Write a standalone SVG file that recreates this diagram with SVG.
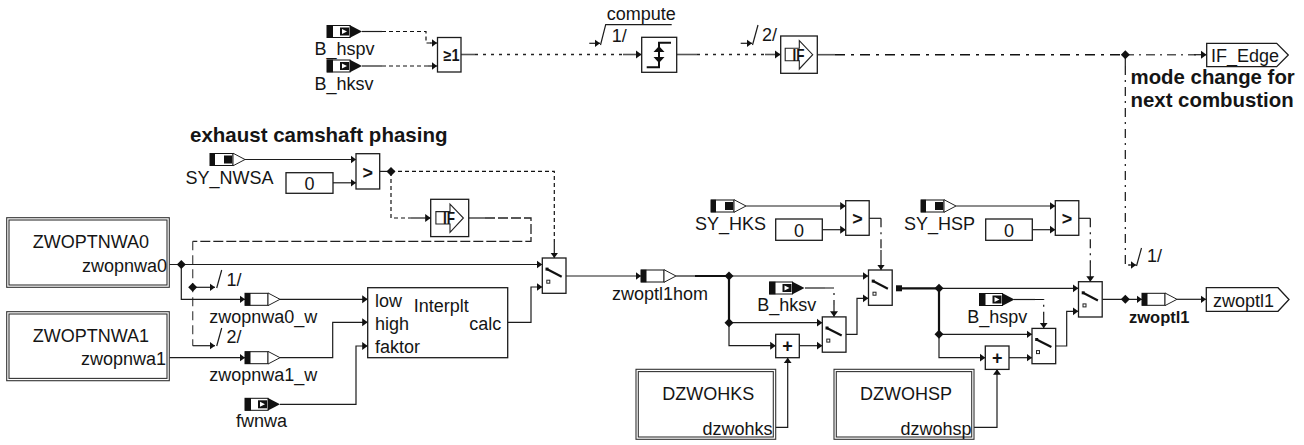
<svg xmlns="http://www.w3.org/2000/svg" xmlns:xlink="http://www.w3.org/1999/xlink" width="1304" height="445" viewBox="0 0 1304 445">
<style>
text{font-family:"Liberation Sans",Arial,sans-serif;font-size:18px;fill:#151515}
.b{font-weight:bold;font-size:20.4px}
.o{font-weight:bold;font-size:18px;text-anchor:middle}
.i{font-weight:bold;font-size:17px}
.box{fill:#fff;stroke:#1c1c1c;stroke-width:1.3}
.dbl{fill:none;stroke:#333;stroke-width:1.1}
.l{fill:none;stroke:#1c1c1c;stroke-width:1.2}
.th{fill:none;stroke:#111;stroke-width:2.2}
.g{fill:none;stroke:#555;stroke-width:1.6}
.a{marker-end:url(#ar)}
.d{fill:none;stroke:#111;stroke-width:1.2;stroke-dasharray:4 3}
.dt{fill:none;stroke:#222;stroke-width:1.6;stroke-dasharray:3 5}
.dd{fill:none;stroke:#111;stroke-width:1.5;stroke-dasharray:10 6 3 6}
.dg{fill:none;stroke:#555;stroke-width:1.4;stroke-dasharray:9 5 2 5}
.ds{fill:none;stroke:#111;stroke-width:1.2;stroke-dasharray:9 5 2 5}
.dl{fill:none;stroke:#222;stroke-width:1.3;stroke-dasharray:10 3}
.v{fill:none;stroke:#555;stroke-width:1.3;stroke-dasharray:9 5}
</style>
<defs>
<marker id="ar" markerUnits="userSpaceOnUse" markerWidth="7" markerHeight="10" refX="5.5" refY="4.5" orient="auto"><path d="M0,0.5 L5.5,4.5 L0,8.5z" fill="#111"/></marker>
<g id="pin"><rect x="0" y="-6" width="23" height="12" fill="#fff" stroke="#111"/><rect x="0" y="-6.3" width="6" height="12.6" fill="#111"/><rect x="13" y="-4" width="9" height="8" fill="#111"/><path d="M15,-2.5 L20,0 L15,2.5z" fill="#fff"/><path d="M23,-6.3 L35,0 L23,6.3z" fill="#111"/></g>
<g id="pvar"><rect x="0" y="-6" width="23" height="12" fill="#fff" stroke="#111"/><rect x="0" y="-6.3" width="5.5" height="12.6" fill="#111"/><path d="M23,-6.3 L35,0 L23,6.3z" fill="#fff" stroke="#222"/></g>
<g id="psy"><rect x="0" y="-6" width="23" height="12" fill="#fff" stroke="#111"/><rect x="0" y="-6.3" width="5" height="12.6" fill="#111"/><rect x="14" y="-4" width="8" height="8" fill="#111"/><path d="M23,-6.3 L35,0 L23,6.3z" fill="#fff" stroke="#222"/></g>
<path id="dia" d="M0,-4.5 L4.5,0 L0,4.5 L-4.5,0z" fill="#111"/>
<g id="sw"><rect class="box" x="0" y="0" width="23.7" height="35.3"/><path d="M5,11.3 L19.4,18.7" stroke="#111" stroke-width="2.2" fill="none"/><rect x="3.2" y="9.6" width="3" height="3" fill="#111"/><rect x="4.5" y="22.2" width="3" height="3" fill="none" stroke="#222"/></g>
<g id="ifs"><path d="M4.5,12.3 H18.6 V4.7 L32,18.7 L18.6,33 V24.7 H4.5z" fill="#fff" stroke="#222" stroke-width="1.1"/></g>
</defs>

<g id="connectors">
<path class="l" d="M362 31.5H382"/><path class="d" d="M382 31.5H426V43H432"/><path class="l a" d="M430 43H437"/>
<path class="l" d="M362 66H382"/><path class="d" d="M382 66H430"/><path class="l a" d="M428 66H437"/>
<path class="g" d="M461 54.5H475"/><path class="dt" d="M475 54.5H623"/><path class="g a" d="M623 54.5H641.5"/>
<path class="g" d="M676.7 54.5H697"/><path class="dt" d="M697 54.5H765"/><path class="g a" d="M765 54.5H780.5"/>
<path class="g" d="M817 54.7H835"/><path class="dd" d="M835 54.7H1125"/><path class="dg" d="M1125 54.7H1196"/><path class="l a" d="M1194 54.7H1206.5"/>
<path class="l" d="M1125.3 54.7V66"/><path class="ds" d="M1125.3 66V265H1130"/><path class="l a" d="M1128 265H1136"/>
<path class="l a" d="M245 159.5H356"/>
<path class="l a" d="M333 182.8H356"/>
<path class="l" d="M379.7 171.4H391"/>
<path class="d" d="M391 171.4H554.3V242"/><path class="l a" d="M554.3 242V258"/>
<path class="d" d="M391 172V218H411"/><path class="l a" d="M411 218H430.7"/>
<path class="g" d="M468.7 218H485"/><path class="dl" d="M485 218H531V241.3H192.7"/><path class="v" d="M192.7 241.3V345.7"/>
<path class="l a" d="M192.7 287.3H215"/><path class="l a" d="M192.7 345.7H215"/>
<path class="l a" d="M169.5 264.5H542.3"/>
<path class="l a" d="M181.3 264.5V299.3H245"/>
<path class="l a" d="M280 299.3H367.7"/>
<path class="l a" d="M169.5 357.7H245"/>
<path class="l a" d="M280 357.7H332.7V322.3H367.7"/>
<path class="l a" d="M280 404.3H356V346H367.7"/>
<path class="l a" d="M507.7 322.3H531V287H542.3"/>
<path class="l a" d="M566 276H641"/>
<path class="l" d="M676 276H695"/><path class="th" d="M695 276H729V322.7"/>
<path class="l a" d="M729 276H868.3"/>
<path class="l a" d="M729 322.7H822.3"/>
<path class="l a" d="M729 322.7V345.7H775.7"/>
<path class="l a" d="M799.3 345.7H822.3"/>
<path class="l a" d="M775.7 427.3H787.7V357.7"/>
<path class="l a" d="M846 334.3H857V298.3H868.3"/>
<path class="l a" d="M745.7 206H845.7"/>
<path class="l a" d="M822.3 229.7H845.7"/>
<path class="l" d="M869 218.3H881"/><path class="ds" d="M881 218.3V250"/><path class="l a" d="M881 250V270"/>
<path class="l" d="M805 288H825"/><path class="ds" d="M825 288H834V305"/><path class="l a" d="M834 305V316.7"/>
<path class="th" d="M902 288.3H939V334.3"/>
<path class="l a" d="M939 288.3H1078.3"/>
<path class="l a" d="M939 334.3H1032"/>
<path class="l a" d="M939 334.3V357.7H985.3"/>
<path class="l a" d="M1009 357.7H1032"/>
<path class="l a" d="M974 427.3H997V369.3"/>
<path class="l a" d="M1055.7 346H1066.7V311.3H1078.3"/>
<path class="l a" d="M956 206H1055.3"/>
<path class="l a" d="M1032.3 229.7H1055.3"/>
<path class="l" d="M1078.7 218.3H1090.3"/><path class="ds" d="M1090.3 218.3V263"/><path class="l a" d="M1090.3 263V281.7"/>
<path class="l" d="M1014 299.5H1035"/><path class="ds" d="M1035 299.5H1043.7V315"/><path class="l a" d="M1043.7 315V328.3"/>
<path class="l a" d="M1102.3 299.3H1142"/>
<path class="l a" d="M1177 299.3H1206"/>
<path class="l a" d="M589.3 43.3H600"/><path class="l" d="M600.5 45L605.7 24.7H671.7"/>
<path class="l a" d="M740.7 43.3H752"/><path class="l" d="M752.5 45L758 25"/>
<path class="l" d="M216.7 288L221.7 270"/>
<path class="l" d="M216.7 346L221.7 328"/>
<path class="l" d="M1136.5 266L1141.5 248"/>
<use xlink:href="#dia" href="#dia" x="391" y="171.4"/>
<use xlink:href="#dia" href="#dia" x="181.3" y="264.5"/>
<use xlink:href="#dia" href="#dia" x="192.7" y="287.3"/>
<use xlink:href="#dia" href="#dia" x="1125.3" y="54.7"/>
<use xlink:href="#dia" href="#dia" x="729" y="276"/>
<use xlink:href="#dia" href="#dia" x="729" y="322.7"/>
<use xlink:href="#dia" href="#dia" x="939" y="288.3"/>
<use xlink:href="#dia" href="#dia" x="939" y="334.3"/>
<use xlink:href="#dia" href="#dia" x="1125.3" y="299.3"/>
<rect x="896" y="285.3" width="6" height="6" fill="#111"/>
</g>

<g id="in_B_hspv_top"><use xlink:href="#pin" href="#pin" x="327" y="31.5"/><text x="314.5" y="55">B_hspv</text></g>
<g id="in_B_hksv_top"><use xlink:href="#pin" href="#pin" x="327" y="66"/><text x="314.5" y="90">B_hksv</text></g>
<g id="or"><rect class="box" x="437.5" y="37.5" width="23.5" height="34.5"/><text x="443.5" y="60.5" textLength="16" lengthAdjust="spacingAndGlyphs" style="font-weight:bold;font-size:16px">≥1</text></g>
<g id="edge"><rect class="box" x="641.7" y="37.3" width="35" height="35"/><path d="M646.7 67.3H659V42.7H671" fill="none" stroke="#111" stroke-width="2"/><path d="M653.5 52L659 46L664.5 52zM653.5 57L659 63L664.5 57z" fill="#111"/></g>
<g id="if_top"><rect class="box" x="780.7" y="36" width="36.6" height="37.3"/><use xlink:href="#ifs" href="#ifs" x="780.7" y="36"/><text class="i" x="792.5" y="60.7" textLength="12" lengthAdjust="spacingAndGlyphs">IF</text></g>
<g id="out_IF_Edge"><path class="box" d="M1206.7 43.3H1276.7L1288.3 55L1276.7 66.7H1206.7z"/><text x="1211" y="61.7">IF_Edge</text></g>
<g id="lbl_trigger"><text x="606.7" y="20">compute</text><text x="611.7" y="41.7">1/</text><text x="762" y="40.7">2/</text></g>
<g id="lbl_mode"><text class="b" x="1130.5" y="84.3">mode change for</text><text class="b" x="1130.5" y="106.7">next combustion</text></g>

<g id="lbl_exhaust"><text class="b" x="190" y="142.3" style="font-size:20.5px">exhaust camshaft phasing</text></g>
<g id="in_SY_NWSA"><use xlink:href="#psy" href="#psy" x="210" y="159.5"/><text x="185.5" y="184">SY_NWSA</text></g>
<g id="const_nwsa"><rect class="box" x="286" y="172.7" width="47" height="20.6"/><text x="309.5" y="190" text-anchor="middle">0</text></g>
<g id="cmp_nwsa"><rect class="box" x="356" y="153.7" width="23.7" height="35.3"/><text class="o" x="367.8" y="178.5">&gt;</text></g>
<g id="if_nwsa"><rect class="box" x="430.7" y="199.3" width="38" height="37.3"/><use xlink:href="#ifs" href="#ifs" x="431.4" y="199.3"/><text class="i" x="443" y="224" textLength="12" lengthAdjust="spacingAndGlyphs">IF</text></g>
<g id="sw_main"><use xlink:href="#sw" href="#sw" x="542.3" y="258"/></g>

<g id="ZWOPTNWA0"><rect class="dbl" x="6.7" y="217.7" width="162.6" height="69.6"/><rect class="dbl" x="9" y="220" width="158" height="65"/><text x="32.7" y="248.3">ZWOPTNWA0</text><text x="167" y="271.7" text-anchor="end">zwopnwa0</text></g>
<g id="ZWOPTNWA1"><rect class="dbl" x="6.7" y="311.7" width="162.6" height="69"/><rect class="dbl" x="9" y="314" width="158" height="64.4"/><text x="32.7" y="341.7">ZWOPTNWA1</text><text x="166" y="365" text-anchor="end">zwopnwa1</text></g>
<g id="lbl_slots"><text x="226.5" y="286">1/</text><text x="226.5" y="343">2/</text><text x="1147" y="262">1/</text></g>
<g id="p_zwopnwa0_w"><use xlink:href="#pvar" href="#pvar" x="245" y="299.3"/><text x="209.3" y="322.7">zwopnwa0_w</text></g>
<g id="p_zwopnwa1_w"><use xlink:href="#pvar" href="#pvar" x="245" y="357.7"/><text x="209.3" y="381">zwopnwa1_w</text></g>
<g id="in_fwnwa"><use xlink:href="#pin" href="#pin" x="245" y="404.3"/><text x="236" y="427">fwnwa</text></g>
<g id="Interplt"><rect class="box" x="367.7" y="287.7" width="140" height="70"/><text x="375" y="306.7">low</text><text x="375" y="330">high</text><text x="375" y="352.7">faktor</text><text x="413.7" y="311.7">Interplt</text><text x="469.3" y="330">calc</text></g>

<g id="p_zwoptl1hom"><use xlink:href="#pvar" href="#pvar" x="641" y="276"/><text x="612" y="300">zwoptl1hom</text></g>
<g id="in_SY_HKS"><use xlink:href="#psy" href="#psy" x="711" y="206"/><text x="695" y="230">SY_HKS</text></g>
<g id="const_hks"><rect class="box" x="775.7" y="219" width="46.6" height="21.3"/><text x="799" y="236.5" text-anchor="middle">0</text></g>
<g id="cmp_hks"><rect class="box" x="845.7" y="200.7" width="23.5" height="34.6"/><text class="o" x="857.5" y="225">&gt;</text></g>
<g id="sw_hks1"><use xlink:href="#sw" href="#sw" x="868.5" y="270"/></g>
<g id="in_B_hksv"><use xlink:href="#pin" href="#pin" x="769.5" y="288"/><text x="757.3" y="311">B_hksv</text></g>
<g id="sw_hks2"><use xlink:href="#sw" href="#sw" x="822.3" y="316.9"/></g>
<g id="add_hks"><rect class="box" x="775.7" y="334.3" width="23.6" height="23.4"/><text class="o" x="787.5" y="352">+</text></g>
<g id="DZWOHKS"><rect class="dbl" x="636" y="369.3" width="139.7" height="70"/><rect class="dbl" x="638.3" y="371.6" width="135" height="65.4"/><text x="662.3" y="400">DZWOHKS</text><text x="772.5" y="435" text-anchor="end">dzwohks</text></g>

<g id="in_SY_HSP"><use xlink:href="#psy" href="#psy" x="921" y="206"/><text x="904" y="230">SY_HSP</text></g>
<g id="const_hsp"><rect class="box" x="985.7" y="219" width="46.6" height="21.3"/><text x="1009" y="236.5" text-anchor="middle">0</text></g>
<g id="cmp_hsp"><rect class="box" x="1055.3" y="200.7" width="23.5" height="34.6"/><text class="o" x="1067" y="225">&gt;</text></g>
<g id="sw_hsp1"><use xlink:href="#sw" href="#sw" x="1078.5" y="281.7"/></g>
<g id="in_B_hspv"><use xlink:href="#pin" href="#pin" x="979.5" y="299.5"/><text x="967.3" y="323">B_hspv</text></g>
<g id="sw_hsp2"><use xlink:href="#sw" href="#sw" x="1032" y="328.4"/></g>
<g id="add_hsp"><rect class="box" x="985.3" y="346" width="23.7" height="23.4"/><text class="o" x="997.2" y="363.7">+</text></g>
<g id="DZWOHSP"><rect class="dbl" x="834" y="369.3" width="140" height="70"/><rect class="dbl" x="836.3" y="371.6" width="135.4" height="65.4"/><text x="860" y="400">DZWOHSP</text><text x="971.5" y="435" text-anchor="end">dzwohsp</text></g>

<g id="p_zwoptl1"><use xlink:href="#pvar" href="#pvar" x="1142" y="299.3"/><text x="1129" y="323" style="font-weight:bold;font-size:16.5px">zwoptl1</text></g>
<g id="out_zwoptl1"><path class="box" d="M1206.3 287.7H1278L1289 299.5L1278 311.3H1206.3z"/><text x="1213" y="306.7">zwoptl1</text></g>
</svg>
